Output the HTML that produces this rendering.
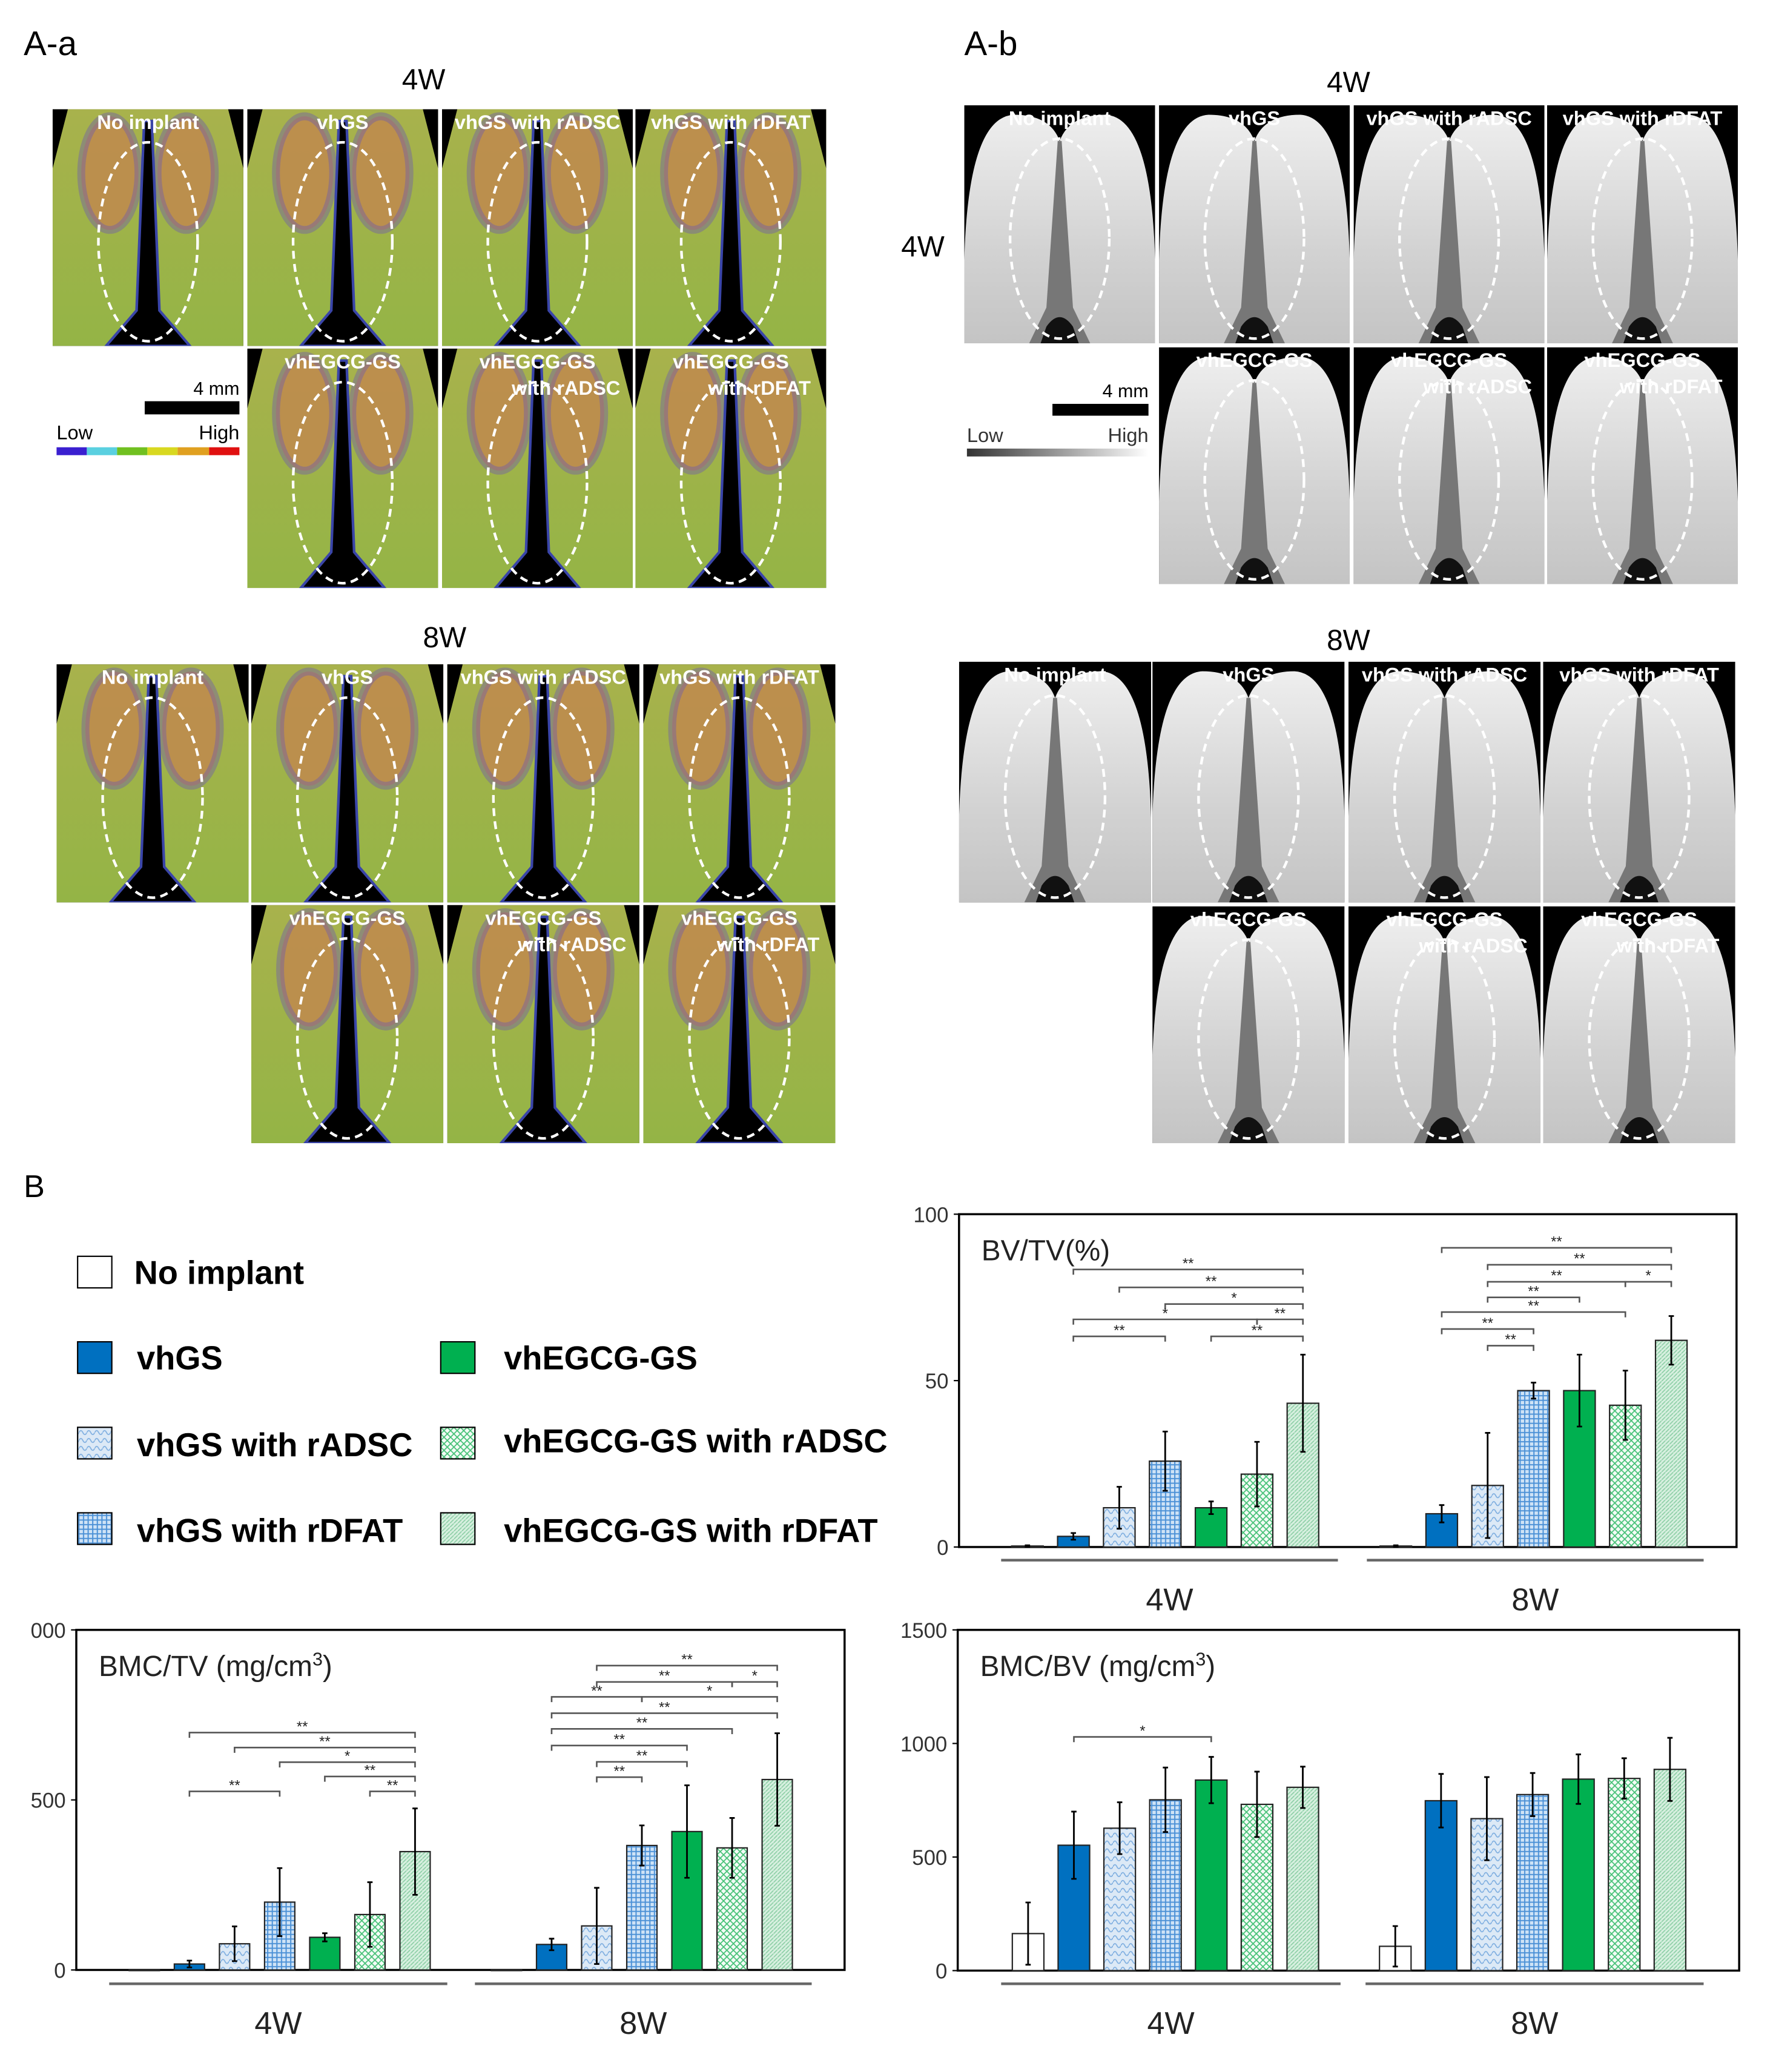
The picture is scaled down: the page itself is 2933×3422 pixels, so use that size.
<!DOCTYPE html>
<html><head><meta charset="utf-8"><style>
html,body{margin:0;padding:0;background:#fff;}
#wrap{width:1350px;height:1570px;transform:scale(2.172593);transform-origin:0 0;position:absolute;left:0;top:0;}
svg text{font-family:"Liberation Sans",sans-serif;}
</style></head><body>
<div id="wrap">
<svg id="fig" width="1350" height="1570" viewBox="0 0 1350 1570" xmlns="http://www.w3.org/2000/svg">
<defs>
<pattern id="pADSC" width="6" height="6" patternUnits="userSpaceOnUse"><rect width="6" height="6" fill="#dce9f6"/><path d="M0 3 Q1.5 0 3 3 T6 3" stroke="#7eaee0" stroke-width="0.8" fill="none"/></pattern>
<pattern id="pDFAT" width="3.5" height="3.5" patternUnits="userSpaceOnUse"><rect width="3.5" height="3.5" fill="#cfe3f6"/><path d="M0 0.5H3.5M0.5 0V3.5" stroke="#4a90d6" stroke-width="0.9"/></pattern>
<pattern id="pEADSC" width="5" height="5" patternUnits="userSpaceOnUse"><rect width="5" height="5" fill="#f4fbf6"/><path d="M0 0L5 5M5 0L0 5" stroke="#45c176" stroke-width="0.8"/></pattern>
<pattern id="pEDFAT" width="3" height="3" patternUnits="userSpaceOnUse"><rect width="3" height="3" fill="#d8f0e0"/><path d="M0 3L3 0" stroke="#8fd0a8" stroke-width="0.8"/></pattern>
<linearGradient id="gGreen" x1="0" y1="0" x2="0" y2="1"><stop offset="0" stop-color="#a8b24c"/><stop offset="1" stop-color="#94b446"/></linearGradient>
<linearGradient id="gGray" x1="0" y1="0" x2="0" y2="1"><stop offset="0" stop-color="#eeeeee"/><stop offset="0.6" stop-color="#d2d2d2"/><stop offset="1" stop-color="#c4c4c4"/></linearGradient>
<linearGradient id="gBar" x1="0" y1="0" x2="1" y2="0"><stop offset="0" stop-color="#333"/><stop offset="1" stop-color="#fff"/></linearGradient>
</defs>

<text x="18" y="42" font-size="26">A-a</text>
<text x="322" y="68" font-size="22" text-anchor="middle">4W</text>
<text x="338" y="492" font-size="22" text-anchor="middle">8W</text>
<text x="733" y="42" font-size="26">A-b</text>
<text x="1025" y="70" font-size="22" text-anchor="middle">4W</text>
<text x="685" y="195" font-size="22">4W</text>
<text x="1025" y="494" font-size="22" text-anchor="middle">8W</text>
<text x="18" y="910" font-size="24">B</text>

<g>
<text x="182" y="300" font-size="14" text-anchor="end">4 mm</text>
<rect x="110" y="305" width="72" height="10" fill="#000"/>
<text x="43" y="334" font-size="15">Low</text>
<text x="182" y="334" font-size="15" text-anchor="end">High</text>
<rect x="43" y="340" width="23" height="6" fill="#3a1fd0"/><rect x="66" y="340" width="23" height="6" fill="#5ad0e0"/><rect x="89" y="340" width="23" height="6" fill="#70c020"/><rect x="112" y="340" width="23" height="6" fill="#d8d820"/><rect x="135" y="340" width="24" height="6" fill="#e0a020"/><rect x="159" y="340" width="23" height="6" fill="#e01010"/>
</g>
<g>
<text x="873" y="302" font-size="14" text-anchor="end">4 mm</text>
<rect x="800" y="307" width="73" height="9" fill="#000"/>
<text x="735" y="336" font-size="15" fill="#333">Low</text>
<text x="873" y="336" font-size="15" fill="#333" text-anchor="end">High</text>
<rect x="735" y="341" width="138" height="6" fill="url(#gBar)"/>
</g>

<g id="panels"></g>

<g font-weight="bold" font-size="25">
<rect x="59" y="955" width="26" height="24" fill="#fff" stroke="#000"/><text x="102" y="976">No implant</text>
<rect x="59" y="1020" width="26" height="24" fill="#0070c0" stroke="#000"/><text x="104" y="1041">vhGS</text>
<rect x="59" y="1085" width="26" height="24" fill="url(#pADSC)" stroke="#000"/><text x="104" y="1107">vhGS with rADSC</text>
<rect x="59" y="1150" width="26" height="24" fill="url(#pDFAT)" stroke="#000"/><text x="104" y="1172">vhGS with rDFAT</text>
<rect x="335" y="1020" width="26" height="24" fill="#00b050" stroke="#000"/><text x="383" y="1041">vhEGCG-GS</text>
<rect x="335" y="1085" width="26" height="24" fill="url(#pEADSC)" stroke="#000"/><text x="383" y="1104">vhEGCG-GS with rADSC</text>
<rect x="335" y="1150" width="26" height="24" fill="url(#pEDFAT)" stroke="#000"/><text x="383" y="1172">vhEGCG-GS with rDFAT</text>
</g>

<g id="charts"></g>
</svg>
</div>
<script>
// ---- chart data ----
const groupLabels = ['4W', '8W'];
const seriesNames = ['No implant', 'vhGS', 'vhGS with rADSC', 'vhGS with rDFAT', 'vhEGCG-GS', 'vhEGCG-GS with rADSC', 'vhEGCG-GS with rDFAT'];

const bvtvTicks = [0, 50, 100];
const bvtvMean4W = [0.3, 3.2, 11.8, 25.8, 11.8, 21.9, 43.2];
const bvtvErr4W = [0.2, 1.0, 6.3, 8.9, 1.9, 9.7, 14.6];
const bvtvMean8W = [0.3, 10.0, 18.5, 47.0, 47.0, 42.6, 62.1];
const bvtvErr8W = [0.2, 2.6, 15.8, 2.4, 10.8, 10.4, 7.3];
const bvtvSig = [[0,1,6,83.4,'**'],[0,2,6,78,'**'],[0,3,6,73,'*'],[0,1,5,68.4,'*'],[0,5,6,68.4,'**'],[0,1,3,63.3,'**'],[0,4,6,63.3,'**'],
  [1,1,6,89.9,'**'],[1,2,6,84.8,'**'],[1,2,5,79.7,'**'],[1,5,6,79.7,'*'],[1,2,4,75,'**'],[1,1,5,70.6,'**'],[1,1,3,65.5,'**'],[1,2,3,60.5,'**']];

const bmctvTicks = [0, 500, 1000];
const bmctvTickLabels = ['0', '500', '000'];
const bmctvMean4W = [0, 17.5, 77, 199.5, 96, 163, 348];
const bmctvErr4W = [0, 10, 51, 100, 12, 95, 127];
const bmctvMean8W = [0, 75, 129.5, 366, 407, 359, 560];
const bmctvErr8W = [0, 17, 112, 59, 136, 88, 136];
const bmctvSig = [[0,1,6,698,'**'],[0,2,6,654,'**'],[0,3,6,611,'*'],[0,4,6,569,'**'],[0,1,3,525,'**'],[0,5,6,525,'**'],
  [1,2,6,895,'**'],[1,2,5,847,'**'],[1,5,6,847,'*'],[1,1,3,803,'**'],[1,3,6,803,'*'],[1,1,6,755,'**'],[1,1,5,709,'**'],[1,1,4,660,'**'],[1,2,4,612,'**'],[1,2,3,567,'**']];

const bmcbvTicks = [0, 500, 1000, 1500];
const bmcbvMean4W = [163, 552, 627, 752, 839, 732, 807];
const bmcbvErr4W = [137, 148, 114, 142, 102, 144, 91];
const bmcbvMean8W = [107, 748, 669, 775, 843, 846, 886];
const bmcbvErr8W = [89, 118, 183, 95, 109, 89, 139];
const bmcbvSig = [[0,1,4,1029,'*']];

const fills = ['#fff', '#0070c0', 'url(#pADSC)', 'url(#pDFAT)', '#00b050', 'url(#pEADSC)', 'url(#pEDFAT)'];
const NS = 'http://www.w3.org/2000/svg';
function mk(tag, attrs, parent) {
  const e = document.createElementNS(NS, tag);
  for (const k in attrs) e.setAttribute(k, attrs[k]);
  if (parent) parent.appendChild(e);
  return e;
}

function drawChart(key, L, ticks, tickLabels, means, errs, sig, title) {
  const root = document.getElementById('charts');
  const g = mk('g', {}, root);
  
  
  const ymax = ticks[ticks.length - 1];
  const yS = v => L.y1 - (v / ymax) * (L.y1 - L.y0);
  const xS = (gi, i) => L.gx[gi] + i * L.step;
  const frame = mk('rect', {x: L.x0, y: L.y0, width: L.x1 - L.x0, height: L.y1 - L.y0, fill: 'none', stroke: '#000', 'stroke-width': 1.6}, g);
  
  
  ticks.forEach((t, k) => {
    const tl = mk('text', {x: L.x0 - 8, y: yS(t) + 6, 'font-size': 16, fill: '#333', 'text-anchor': 'end'}, g);
    tl.textContent = tickLabels ? tickLabels[k] : String(t);
    
    
    mk('line', {x1: L.x0 - 4, x2: L.x0, y1: yS(t), y2: yS(t), stroke: '#000', 'stroke-width': 1}, g);
  });
  const tt = mk('text', {x: L.x0 + 17, y: L.y0 + 35, 'font-size': 22, fill: '#222'}, g);
  tt.innerHTML = title;
  
  
  means.forEach((arr, gi) => {
    arr.forEach((v, i) => {
      const cx = xS(gi, i), top = yS(v);
      const b = mk('rect', {x: cx - L.bw / 2, y: top, width: L.bw, height: Math.max(L.y1 - top, 0.5), fill: fills[i], stroke: '#222', 'stroke-width': 1}, g);
      
      
      const e = errs[gi][i];
      if (e > 0) {
        const eb = mk('path', {d: `M${cx} ${yS(v - e)}V${yS(v + e)}M${cx - 2} ${yS(v + e)}H${cx + 2}M${cx - 2} ${yS(v - e)}H${cx + 2}`, stroke: '#000', 'stroke-width': 1.3, fill: 'none'}, g);
        
        
      }
    });
    const gl = mk('line', {x1: L.gl[gi][0], x2: L.gl[gi][1], y1: L.gly, y2: L.gly, stroke: '#666', 'stroke-width': 2}, g);
    
    
    const lab = mk('text', {x: (L.gl[gi][0] + L.gl[gi][1]) / 2, y: L.gly + 38, 'font-size': 24, 'text-anchor': 'middle', fill: '#222'}, g);
    lab.textContent = groupLabels[gi];
    
    
  });
  sig.forEach(s => {
    const xa = xS(s[0], s[1]), xb = xS(s[0], s[2]), y = yS(s[3]);
    const br = mk('path', {d: `M${xa} ${y + 4}V${y}H${xb}V${y + 4}`, stroke: '#555', 'stroke-width': 1.2, fill: 'none'}, g);
    
    
    const st = mk('text', {x: (xa + xb) / 2, y: y - 1, 'font-size': 11, 'text-anchor': 'middle', fill: '#222'}, g);
    st.textContent = s[4];
    
    
  });
}

drawChart('bv-tv', {x0: 729, x1: 1320, y0: 923, y1: 1176, gx: [781, 1061], step: 34.9, bw: 24, gly: 1186, gl: [[761, 1017], [1039, 1295]]},
  bvtvTicks, null, [bvtvMean4W, bvtvMean8W], [bvtvErr4W, bvtvErr8W], bvtvSig, 'BV/TV(%)');
drawChart('bmc-tv', {x0: 58, x1: 642, y0: 1239, y1: 1497.5, gx: [109.7, 385], step: 34.3, bw: 23, gly: 1508, gl: [[83, 340], [361, 617]]},
  bmctvTicks, bmctvTickLabels, [bmctvMean4W, bmctvMean8W], [bmctvErr4W, bmctvErr8W], bmctvSig, 'BMC/TV (mg/cm<tspan font-size="14" dy="-8">3</tspan><tspan dy="8">)</tspan>');
drawChart('bmc-bv', {x0: 728, x1: 1322, y0: 1239, y1: 1498, gx: [781.5, 1060.6], step: 34.8, bw: 24, gly: 1508, gl: [[761, 1019], [1038, 1295]]},
  bmcbvTicks, null, [bmcbvMean4W, bmcbvMean8W], [bmcbvErr4W, bmcbvErr8W], bmcbvSig, 'BMC/BV (mg/cm<tspan font-size="14" dy="-8">3</tspan><tspan dy="8">)</tspan>');

// ---- image panels (approximations of micro-CT renders) ----
let clipN = 0;
function panel(x, y, w, h, type, l1, l2, name) {
  const root = document.getElementById('panels');
  const id = 'clip' + (clipN++);
  const cp = mk('clipPath', {id: id}, root);
  mk('rect', {x: x, y: y, width: w, height: h}, cp);
  const g = mk('g', {'clip-path': `url(#${id})`}, root);
  
  
  mk('rect', {x: x, y: y, width: w, height: h, fill: '#000'}, g);
  const P = (fx, fy) => (x + fx * w).toFixed(1) + ' ' + (y + fy * h).toFixed(1);
  if (type === 'color') {
    mk('rect', {x: x, y: y, width: w, height: h, fill: 'url(#gGreen)'}, g);
    mk('ellipse', {cx: x + 0.3 * w, cy: y + 0.27 * h, rx: 0.15 * w, ry: 0.24 * h, fill: '#c0884e', 'fill-opacity': 0.85, stroke: '#7060a8', 'stroke-width': 6, 'stroke-opacity': 0.45}, g);
    mk('ellipse', {cx: x + 0.7 * w, cy: y + 0.27 * h, rx: 0.15 * w, ry: 0.24 * h, fill: '#c0884e', 'fill-opacity': 0.85, stroke: '#7060a8', 'stroke-width': 6, 'stroke-opacity': 0.45}, g);
    mk('path', {d: `M${P(0,0)}L${P(0.08,0)}L${P(0,0.25)}Z M${P(1,0)}L${P(0.92,0)}L${P(1,0.25)}Z`, fill: '#000'}, g);
    mk('path', {d: `M${P(0.48,0.05)}L${P(0.52,0.05)}L${P(0.56,0.85)}L${P(0.72,1)}L${P(0.28,1)}L${P(0.44,0.85)}Z`, fill: '#000', stroke: '#3a45a8', 'stroke-width': 2}, g);
  } else {
    mk('path', {d: `M${P(0,0.65)}Q${P(0.02,0.05)} ${P(0.26,0.04)}Q${P(0.45,0.04)} ${P(0.5,0.15)}Q${P(0.55,0.04)} ${P(0.74,0.04)}Q${P(0.98,0.05)} ${P(1,0.65)}L${P(1,1)}L${P(0,1)}Z`, fill: 'url(#gGray)'}, g);
    mk('path', {d: `M${P(0.49,0.15)}L${P(0.51,0.15)}L${P(0.57,0.85)}L${P(0.66,1)}L${P(0.34,1)}L${P(0.43,0.85)}Z`, fill: '#777'}, g);
    mk('path', {d: `M${P(0.43,0.93)}Q${P(0.5,0.85)} ${P(0.57,0.93)}L${P(0.6,1)}L${P(0.4,1)}Z`, fill: '#111'}, g);
  }
  mk('ellipse', {cx: x + 0.5 * w, cy: y + 0.56 * h, rx: 0.26 * w, ry: 0.42 * h, fill: 'none', stroke: '#fff', 'stroke-width': 2, 'stroke-dasharray': '6 4'}, g);
  const t1 = mk('text', {x: x + w / 2, y: y + 15, 'font-size': 15, 'font-weight': 'bold', fill: '#fff', 'text-anchor': 'middle'}, g);
  t1.textContent = l1;
  if (l2) {
    const t2 = mk('text', {x: x + 0.65 * w, y: y + 35, 'font-size': 15, 'font-weight': 'bold', fill: '#fff', 'text-anchor': 'middle'}, g);
    t2.textContent = l2;
  }
}
const top4 = ['No implant', 'vhGS', 'vhGS with rADSC', 'vhGS with rDFAT'];
const bot3 = [['vhEGCG-GS', ''], ['vhEGCG-GS', 'with rADSC'], ['vhEGCG-GS', 'with rDFAT']];
const layouts = [
  {type: 'color', tag: 'a-a-4w', r1y: 83, r1h: 180, r1x: [40, 188, 336, 483], r2y: 265, r2h: 182, r2x: [188, 336, 483], w: 145},
  {type: 'color', tag: 'a-a-8w', r1y: 505, r1h: 181, r1x: [43, 191, 340, 489], r2y: 688, r2h: 181, r2x: [191, 340, 489], w: 146},
  {type: 'gray', tag: 'a-b-4w', r1y: 80, r1h: 181, r1x: [733, 881, 1029, 1176], r2y: 264, r2h: 180, r2x: [881, 1029, 1176], w: 145},
  {type: 'gray', tag: 'a-b-8w', r1y: 503, r1h: 183, r1x: [729, 876, 1025, 1173], r2y: 689, r2h: 180, r2x: [876, 1025, 1173], w: 146}
];
layouts.forEach(Lo => {
  Lo.r1x.forEach((px, i) => panel(px, Lo.r1y, Lo.w, Lo.r1h, Lo.type, top4[i], '', Lo.tag + '-image-' + i));
  Lo.r2x.forEach((px, i) => panel(px, Lo.r2y, Lo.w, Lo.r2h, Lo.type, bot3[i][0], bot3[i][1], Lo.tag + '-image-egcg-' + i));
});
</script>
</body></html>
